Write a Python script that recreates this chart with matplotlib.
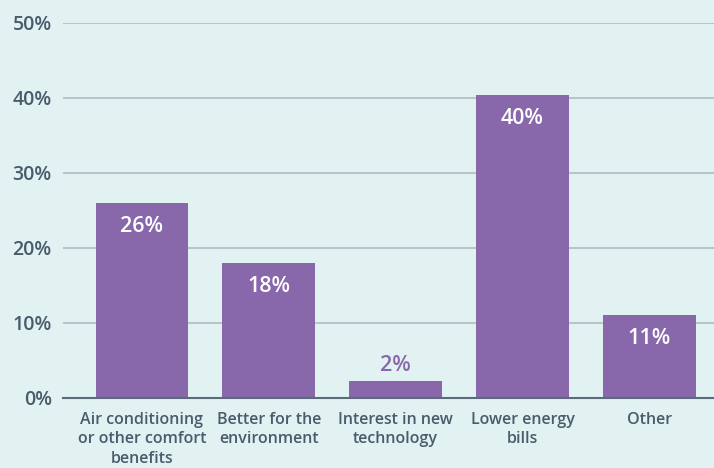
import matplotlib.pyplot as plt
import numpy as np

categories = ['Air conditioning\nor other comfort\nbenefits', 'Better for the\nenvironment',
              'Interest in new\ntechnology', 'Lower energy\nbills', 'Other']
values = [26, 18, 2.3, 40.4, 11]
labels = ['26%', '18%', '2%', '40%', '11%']
yticks = [0, 10, 20, 30, 40, 50]

bg = '#e2f1f1'
bar_color = '#8868ab'
text_color = '#4a5b6c'

plt.rcParams['font.family'] = ['Open Sans', 'DejaVu Sans']

fig = plt.figure(figsize=(7.14, 4.68), dpi=100, facecolor=bg)
ax = fig.add_axes([0.088, 0.1496, 0.912, 0.8013], facecolor=bg)

x = np.arange(len(categories))
bars = ax.bar(x, values, width=0.73, color=bar_color, zorder=3)

for b, v, lab in zip(bars, values, labels):
    cx = b.get_x() + b.get_width() / 2
    if v > 5:
        ax.text(cx, v - 3.1, lab, ha='center', va='center', color='white',
                fontsize=15.5, fontweight='semibold', zorder=4)
    else:
        ax.text(cx, v + 2.0, lab, ha='center', va='center', color=bar_color,
                fontsize=15.5, fontweight='semibold', zorder=4)

ax.set_ylim(0, 50)
ax.set_xlim(-0.623, 4.51)
ax.set_yticks(yticks)
ax.set_yticklabels([f'{t}%' for t in yticks], fontsize=14, color=text_color, fontweight='semibold')
ax.set_xticks(x)
ax.set_xticklabels(categories, fontsize=11.5, color=text_color, fontweight='semibold', linespacing=1.3)
ax.tick_params(axis='both', length=0)
ax.tick_params(axis='y', pad=8)
ax.tick_params(axis='x', pad=10)

for t in yticks[1:]:
    ax.axhline(t, color='#b3bcc0', linewidth=1.2, zorder=1)

for s in ['top', 'right', 'left']:
    ax.spines[s].set_visible(False)
ax.spines['bottom'].set_color('#5a6b7c')
ax.spines['bottom'].set_linewidth(1.5)
ax.spines['bottom'].set_zorder(5)

fig.savefig('out.png', dpi=100, facecolor=bg)
